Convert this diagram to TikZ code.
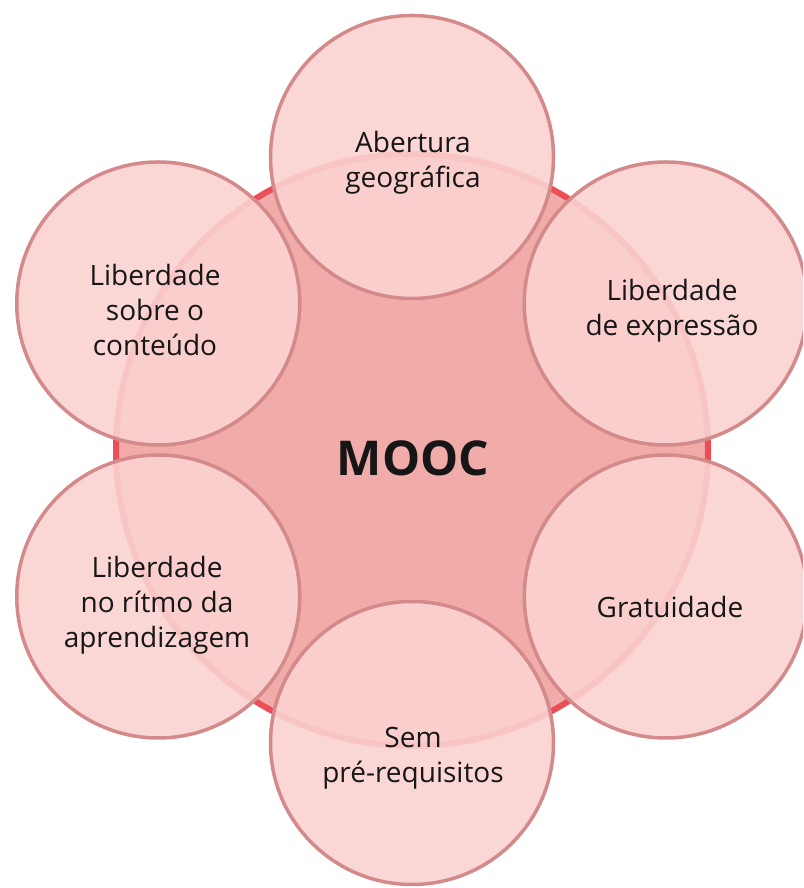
\documentclass[tikz,border=0pt]{standalone}
\usepackage{fontspec}
\usetikzlibrary{calc}
\setmainfont{Open Sans}
\definecolor{hubfill}{RGB}{241,172,170}
\definecolor{hubline}{RGB}{236,78,88}
\definecolor{satfill}{RGB}{250,210,208}
\definecolor{satline}{RGB}{212,138,138}
\definecolor{txt}{RGB}{22,22,22}
\tikzset{
  hub/.style={circle, fill=hubfill, draw=hubline, line width=6pt, minimum size=592pt, inner sep=0pt},
  sat/.style={circle, fill=satfill, fill opacity=0.9, draw=satline, line width=3.5pt, minimum size=283pt, inner sep=0pt},
  lbl/.style={align=center, text=txt, font=\fontsize{28}{35}\selectfont, inner sep=0pt},
  hubtext/.style={text=txt, font=\fontsize{48}{56}\selectfont\bfseries, inner sep=0pt}
}
\begin{document}
\begin{tikzpicture}[x=1pt,y=1pt]
\useasboundingbox (0,0) rectangle (803,888);
\clip (0,0) rectangle (803,888);
\coordinate (c) at (412,438);
\node[hub] (hub) at (c) {};
\node[sat] (s1) at ($(c)+(90:293)$) {};
\node[sat] (s2) at ($(c)+(30:293)$) {};
\node[sat] (s3) at ($(c)+(-30:293)$) {};
\node[sat] (s4) at ($(c)+(-90:293)$) {};
\node[sat] (s5) at ($(c)+(-150:293)$) {};
\node[sat] (s6) at ($(c)+(150:293)$) {};
\node[hubtext] (m) at (413,430) {MOOC};
\node[lbl] (t1) at (413,725) {Abertura\\geográfica};
\node[lbl] (t2) at (672,577) {Liberdade\\de expressão};
\node[lbl] (t3) at (670,281) {Gratuidade};
\node[lbl] (t4) at (413,130) {Sem\\pré-requisitos};
\node[lbl] (t5) at (157,283) {Liberdade\\no rítmo da\\aprendizagem};
\node[lbl] (t6) at (155,578) {Liberdade\\sobre o\\conteúdo};
\end{tikzpicture}
\end{document}
